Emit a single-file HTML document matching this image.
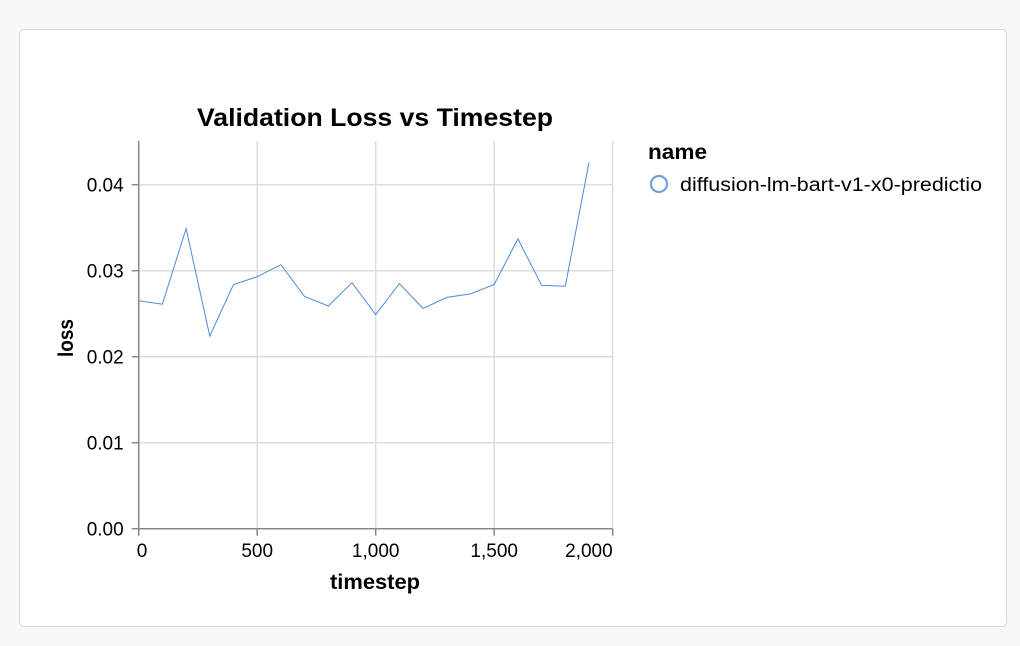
<!DOCTYPE html>
<html><head><meta charset="utf-8"><style>
html,body{margin:0;padding:0;background:#f8f8f8;}
body{width:1020px;height:646px;position:relative;overflow:hidden;font-family:"Liberation Sans",Arial,sans-serif;}
#card{position:absolute;left:19px;top:29px;width:986px;height:596px;background:#fff;border:1px solid #d6d6d6;border-radius:5px;}
svg{position:absolute;left:0;top:0;}
</style></head><body>
<div id="card"></div>
<svg id="chart" width="1020" height="646">
<defs><clipPath id="lc"><rect x="640" y="160" width="343" height="50"/></clipPath></defs>
<text x="375" y="126" text-anchor="middle" font-size="25" font-weight="bold" textLength="356" lengthAdjust="spacingAndGlyphs">Validation Loss vs Timestep</text>
<g id="grid"></g><g id="axes"></g><g id="marks"></g>
<text x="375" y="589" text-anchor="middle" font-size="21" font-weight="bold" textLength="90" lengthAdjust="spacingAndGlyphs">timestep</text>
<text transform="translate(73,338) rotate(-90)" text-anchor="middle" font-size="21" font-weight="bold" textLength="38" lengthAdjust="spacingAndGlyphs">loss</text>
<text x="648" y="159" font-size="21" font-weight="bold" textLength="59" lengthAdjust="spacingAndGlyphs">name</text>
<g>
<circle cx="659" cy="184" r="8" fill="none" stroke="#6fa2e0" stroke-width="2.2"/>
<text x="680" y="191" font-size="19" textLength="314" lengthAdjust="spacingAndGlyphs" clip-path="url(#lc)">diffusion-lm-bart-v1-x0-prediction</text>
</g>
</svg>
<script>
const timesteps=[0,100,200,300,400,500,600,700,800,900,1000,1100,1200,1300,1400,1500,1600,1700,1800,1900];
const lossValues=[0.0265,0.0261,0.0349,0.0224,0.0284,0.0293,0.0307,0.0270,0.0259,0.0286,0.0249,0.0285,0.0256,0.0269,0.0273,0.0284,0.0337,0.0283,0.0282,0.0426];
const xTicks=[0,500,1000,1500,2000];
const xTickLabels=["0","500","1,000","1,500","2,000"];
const yTicks=[0,0.01,0.02,0.03,0.04];
const yTickLabels=["0.00","0.01","0.02","0.03","0.04"];
const X0=138.7,X1=612.7,Y0=528.7,YPER=8600;
function sx(v){return X0+(v-0)/2000*(X1-X0);}
function sy(v){return Y0-v*YPER;}
const NS="http://www.w3.org/2000/svg";
function mk(tag,attrs,parent){const e=document.createElementNS(NS,tag);for(const k in attrs)e.setAttribute(k,attrs[k]);document.getElementById(parent).appendChild(e);return e;}
const TOP=141;
xTicks.forEach((t,i)=>{
 const g=mk('line',{x1:sx(t),x2:sx(t),y1:TOP,y2:Y0,stroke:'#ddd','stroke-width':1.5},'grid');
 
 
 const tk=mk('line',{x1:sx(t),x2:sx(t),y1:Y0,y2:Y0+7,stroke:'#888','stroke-width':1.5},'axes');
 
 
 const anchor=i===0?'start':(i===xTicks.length-1?'end':'middle');
 const lb=mk('text',{x:sx(t)+(i===0?-2:0),y:557,'text-anchor':anchor,'font-size':19},'axes');
 lb.textContent=xTickLabels[i];
 
 
});
yTicks.forEach((t,i)=>{
 const g=mk('line',{x1:X0,x2:X1,y1:sy(t),y2:sy(t),stroke:'#ddd','stroke-width':1.5},'grid');
 
 
 const tk=mk('line',{x1:X0-7,x2:X0,y1:sy(t),y2:sy(t),stroke:'#888','stroke-width':1.5},'axes');
 
 
 const lb=mk('text',{x:X0-15,y:sy(t)+7,'text-anchor':'end','font-size':19},'axes');
 lb.textContent=yTickLabels[i];
 
 
});
const ya=mk('line',{x1:X0,x2:X0,y1:TOP,y2:Y0,stroke:'#888','stroke-width':1.5},'axes');


const xa=mk('line',{x1:X0,x2:X1,y1:Y0,y2:Y0,stroke:'#888','stroke-width':1.5},'axes');


const d=timesteps.map((t,i)=>(i?'L':'M')+sx(t).toFixed(1)+','+sy(lossValues[i]).toFixed(1)).join('');
const p=mk('path',{d:d,fill:'none',stroke:'#4c8ad8','stroke-width':1},'marks');


</script>
</body></html>
